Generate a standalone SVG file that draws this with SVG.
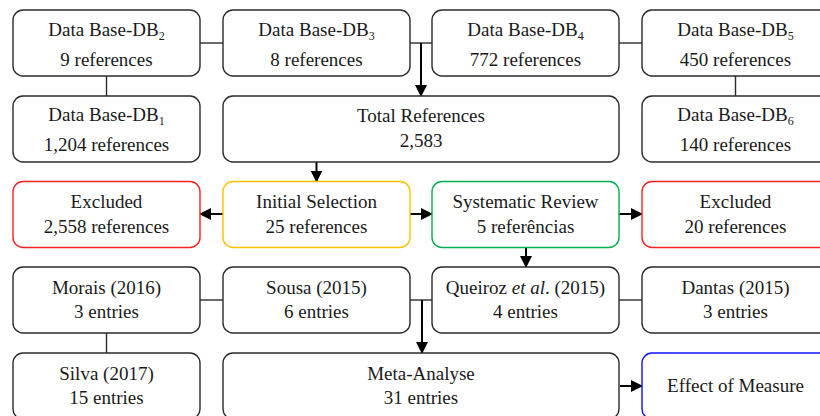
<svg xmlns="http://www.w3.org/2000/svg" width="820" height="416" viewBox="0 0 820 416" font-family="'Liberation Serif', 'Times New Roman', 'DejaVu Serif', serif">
<style>
.box{fill:#fff;stroke:#2b2b2b;stroke-width:1.4}
.red{stroke:#ff2020}
.yel{stroke:#ffc000}
.grn{stroke:#00b050}
.blu{stroke:#1010ff}
text{font-family:'Liberation Serif','Times New Roman','DejaVu Serif',serif;font-size:19px;fill:#1a1a1a;text-anchor:middle}
.sub{font-size:12px}
.ln{stroke:#2b2b2b;stroke-width:1.4;fill:none}
.ar{stroke:#000;stroke-width:2;fill:none;marker-end:url(#ah)}
</style>
<defs>
<marker id="ah" markerUnits="userSpaceOnUse" markerWidth="12" markerHeight="12" viewBox="0 0 12 12" refX="11" refY="6" orient="auto">
<path d="M0,0 L12,6 L0,12 Z" fill="#000"/>
</marker>
</defs>
<rect width="820" height="416" fill="#fff"/>
<g id="connectors">
<line class="ln" x1="200" y1="43" x2="223" y2="43"/>
<line class="ln" x1="410" y1="43" x2="432" y2="43"/>
<line class="ar" x1="421" y1="43" x2="421" y2="96"/>
<line class="ln" x1="619" y1="43" x2="642" y2="43"/>
<line class="ln" x1="106.5" y1="76" x2="106.5" y2="96"/>
<line class="ln" x1="735.5" y1="76" x2="735.5" y2="96"/>
<line class="ar" x1="316.5" y1="162" x2="316.5" y2="181.5"/>
<line class="ar" x1="223" y1="214" x2="200" y2="214"/>
<line class="ar" x1="410" y1="214" x2="432" y2="214"/>
<line class="ar" x1="619" y1="214" x2="642" y2="214"/>
<line class="ar" x1="526" y1="247.5" x2="526" y2="267"/>
<line class="ln" x1="200" y1="300" x2="223" y2="300"/>
<line class="ln" x1="410" y1="300" x2="432" y2="300"/>
<line class="ar" x1="422" y1="300" x2="422" y2="353"/>
<line class="ln" x1="619" y1="300" x2="642" y2="300"/>
<line class="ln" x1="106.5" y1="333" x2="106.5" y2="353"/>
<line class="ar" x1="620" y1="386" x2="642" y2="386"/>
</g>
<g id="db2"><rect class="box" x="13" y="10" width="187" height="66" rx="10"/><text x="106.5" y="36">Data Base-DB<tspan class="sub" dy="4">2</tspan></text><text x="106.5" y="66">9 references</text></g>
<g id="db3"><rect class="box" x="223" y="10" width="187" height="66" rx="10"/><text x="316.5" y="36">Data Base-DB<tspan class="sub" dy="4">3</tspan></text><text x="316.5" y="66">8 references</text></g>
<g id="db4"><rect class="box" x="432" y="10" width="187" height="66" rx="10"/><text x="525.5" y="36">Data Base-DB<tspan class="sub" dy="4">4</tspan></text><text x="525.5" y="66">772 references</text></g>
<g id="db5"><rect class="box" x="642" y="10" width="187" height="66" rx="10"/><text x="735.5" y="36">Data Base-DB<tspan class="sub" dy="4">5</tspan></text><text x="735.5" y="66">450 references</text></g>
<g id="db1"><rect class="box" x="13" y="96" width="187" height="66" rx="10"/><text x="106.5" y="121">Data Base-DB<tspan class="sub" dy="4">1</tspan></text><text x="106.5" y="151">1,204 references</text></g>
<g id="total"><rect class="box" x="223" y="96" width="396" height="66" rx="10"/><text x="421" y="122">Total References</text><text x="421" y="147">2,583</text></g>
<g id="db6"><rect class="box" x="642" y="96" width="187" height="66" rx="10"/><text x="735.5" y="121">Data Base-DB<tspan class="sub" dy="4">6</tspan></text><text x="735.5" y="151">140 references</text></g>
<g id="excluded1"><rect class="box red" x="13" y="181.5" width="187" height="66" rx="10"/><text x="106.5" y="208">Excluded</text><text x="106.5" y="233">2,558 references</text></g>
<g id="initial"><rect class="box yel" x="223" y="181.5" width="187" height="66" rx="10"/><text x="316.5" y="208">Initial Selection</text><text x="316.5" y="233">25 references</text></g>
<g id="systematic"><rect class="box grn" x="432" y="181.5" width="187" height="66" rx="10"/><text x="525.5" y="208">Systematic Review</text><text x="525.5" y="233">5 referências</text></g>
<g id="excluded2"><rect class="box red" x="642" y="181.5" width="187" height="66" rx="10"/><text x="735.5" y="208">Excluded</text><text x="735.5" y="233">20 references</text></g>
<g id="morais"><rect class="box" x="13" y="267" width="187" height="66" rx="10"/><text x="106.5" y="294">Morais (2016)</text><text x="106.5" y="318">3 entries</text></g>
<g id="sousa"><rect class="box" x="223" y="267" width="187" height="66" rx="10"/><text x="316.5" y="294">Sousa (2015)</text><text x="316.5" y="318">6 entries</text></g>
<g id="queiroz"><rect class="box" x="432" y="267" width="187" height="66" rx="10"/><text x="525.5" y="294">Queiroz <tspan font-style="italic">et al</tspan>. (2015)</text><text x="525.5" y="318">4 entries</text></g>
<g id="dantas"><rect class="box" x="642" y="267" width="187" height="66" rx="10"/><text x="735.5" y="294">Dantas (2015)</text><text x="735.5" y="318">3 entries</text></g>
<g id="silva"><rect class="box" x="13" y="353" width="187" height="66" rx="10"/><text x="106.5" y="380">Silva (2017)</text><text x="106.5" y="404">15 entries</text></g>
<g id="meta"><rect class="box" x="223" y="353" width="396" height="66" rx="10"/><text x="421" y="380">Meta-Analyse</text><text x="421" y="404">31 entries</text></g>
<g id="effect"><rect class="box blu" x="642" y="353" width="187" height="66" rx="10"/><text x="735.5" y="392">Effect of Measure</text></g>
</svg>
